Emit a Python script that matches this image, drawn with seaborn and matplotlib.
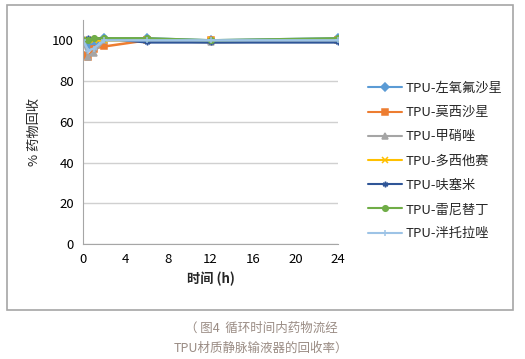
import numpy as np
import pandas as pd
import matplotlib
matplotlib.use('Agg')
from matplotlib import pyplot as plt
from matplotlib.patches import Rectangle
import seaborn as sns

hours = [0, 0.5, 1, 2, 6, 12, 24]
drugs = ['TPU-左氧氟沙星', 'TPU-莫西沙星', 'TPU-甲硝唑', 'TPU-多西他赛',
         'TPU-呋塞米', 'TPU-雷尼替丁', 'TPU-泮托拉唑']
levo = [100, 97, 98, 101, 101, 100, 101]
moxi = [93, 92, 96, 97, 100, 100, 100]
metro = [100, 92, 94, 100, 100, 99, 100]
doce = [100, 100, 100, 100, 100, 100, 100]
furo = [100, 101, 101, 101, 99, 99, 99]
rani = [100, 100, 101, 101, 101, 100, 101]
panto = [100, 95, 96, 100, 100, 100, 100]
values = [levo, moxi, metro, doce, furo, rani, panto]

colors = ['#5B9BD5', '#ED7D31', '#A5A5A5', '#FFC000', '#2F5597', '#70AD47', '#9DC3E6']
marks = ['D', 's', '^', 'x', (6, 2, 0), 'o', '+']

sns.set_style('white')
plt.rcParams['font.family'] = ['Noto Sans CJK SC', 'DejaVu Sans']

fig = plt.figure(figsize=(5.25, 3.59), dpi=100)
fig.patches.append(Rectangle((7/525, 1-310/359), 506/525, 305/359, transform=fig.transFigure,
                             fill=False, edgecolor='#A6A6A6', linewidth=1.2))
ax = fig.add_axes([83/525, 1-244/359, 255/525, 224/359])

for name, vals, c, m in zip(drugs, values, colors, marks):
    sns.lineplot(x=hours, y=vals, color=c, marker=m, label=name, linewidth=1.8,
                 markersize=4, markeredgewidth=1.1, markeredgecolor=c, ax=ax)

ax.set_xlim(0, 24)
ax.set_ylim(0, 110)
ax.set_xticks(range(0, 25, 4))
ax.set_yticks(range(0, 101, 20))
ax.yaxis.grid(True, color='#D0D0D0', linewidth=1)
ax.set_axisbelow(True)
for s in ['top', 'right']:
    ax.spines[s].set_visible(False)
for s in ['left', 'bottom']:
    ax.spines[s].set_color('#A6A6A6')
ax.tick_params(axis='both', colors='#A6A6A6', labelcolor='black', labelsize=9.5, length=3, direction='out')
ax.set_xlabel('时间 (h)', fontsize=9.5, fontweight='bold', labelpad=4)
ax.set_ylabel('% 药物回收', fontsize=9.5, labelpad=8)

leg = ax.legend(loc='center left', bbox_to_anchor=(1.07, 0.37), frameon=False, fontsize=9.5,
                handlelength=2.6, labelspacing=0.85, handletextpad=0.3)
for h in leg.get_lines():
    h.set_linewidth(1.5)

fig.text(0.497, 1-328/359, '（ 图4  循环时间内药物流经', ha='center', va='center', fontsize=9, color='#9A8C84')
fig.text(0.497, 1-348/359, 'TPU材质静脉输液器的回收率）', ha='center', va='center', fontsize=9, color='#9A8C84')

fig.savefig('out.png', dpi=100)
